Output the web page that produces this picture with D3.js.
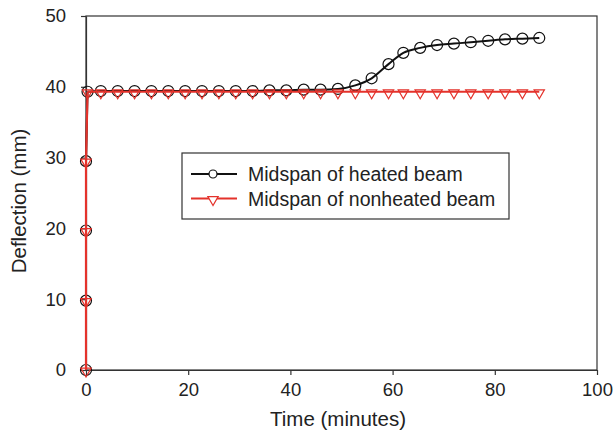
<!DOCTYPE html>
<html>
<head>
<meta charset="utf-8">
<script src="https://cdn.jsdelivr.net/npm/d3@7"></script>
<style>
  body { margin: 0; background: #fff; }
  text { font-family: "Liberation Sans", Arial, sans-serif; }
</style>
</head>
<body>
<div id="chart"></div>
<script>
// Deflection vs time at midspan

const heatedTime = [0, 0, 0, 0, 0.3, 2.9, 6.2, 9.5, 12.8, 16.1, 19.4, 22.7, 26.0, 29.3, 32.6, 35.9,
  39.2, 42.6, 45.9, 49.3, 52.7, 55.9, 59.2, 62.1, 65.4, 68.7, 72.0, 75.3, 78.7, 82.0, 85.4, 88.7];
const heatedDefl = [0, 9.8, 19.7, 29.5, 39.3, 39.4, 39.4, 39.4, 39.4, 39.4, 39.4, 39.4, 39.4, 39.4, 39.4, 39.5,
  39.5, 39.6, 39.6, 39.7, 40.2, 41.2, 43.2, 44.8, 45.5, 45.9, 46.1, 46.3, 46.5, 46.7, 46.8, 46.9];

const nonheatedTime = [0, 0, 0, 0, 0.3, 2.9, 6.2, 9.5, 12.8, 16.1, 19.4, 22.7, 26.0, 29.3, 32.6, 35.9,
  39.2, 42.6, 45.9, 49.3, 52.7, 55.9, 59.2, 62.1, 65.4, 68.7, 72.0, 75.3, 78.7, 82.0, 85.4, 88.7];
const nonheatedDefl = [0, 9.8, 19.7, 29.5, 39.3, 39.3, 39.3, 39.3, 39.3, 39.3, 39.3, 39.3, 39.3, 39.3, 39.3, 39.3,
  39.3, 39.3, 39.3, 39.3, 39.3, 39.3, 39.3, 39.3, 39.3, 39.3, 39.3, 39.3, 39.3, 39.3, 39.3, 39.3];

const xTicks = [0, 20, 40, 60, 80, 100];
const yTicks = [0, 10, 20, 30, 40, 50];
const seriesNames = ["Midspan of heated beam", "Midspan of nonheated beam"];

const width = 613, height = 436;
const margin = { top: 16, right: 16, bottom: 66, left: 86 };
const red = "#e4322b";
const ink = "#222";

const svg = d3.select("#chart").append("svg")
  .attr("width", width).attr("height", height);

const x = d3.scaleLinear().domain([0, 100]).range([margin.left, width - margin.right]);
const y = d3.scaleLinear().domain([0, 50]).range([height - margin.bottom, margin.top]);

// cadre
svg.append("rect")
  .attr("x", x(0)).attr("y", y(50))
  .attr("width", x(100) - x(0)).attr("height", y(0) - y(50))
  .attr("fill", "none").attr("stroke", "#333").attr("stroke-width", 1.2);

// axes
const xAxis = svg.append("g")
  .attr("transform", `translate(0,${y(0)})`)
  .call(d3.axisBottom(x).tickValues(xTicks).tickSize(5).tickSizeOuter(0).tickPadding(8));
const yAxis = svg.append("g")
  .attr("transform", `translate(${x(0)},0)`)
  .call(d3.axisLeft(y).tickValues(yTicks).tickSize(5).tickSizeOuter(0).tickPadding(15));
[xAxis, yAxis].forEach(a => {
  a.select(".domain").attr("stroke", "#333").attr("stroke-width", 1.2);
  a.selectAll(".tick line").attr("stroke", "#333").attr("stroke-width", 1.2);
  a.selectAll(".tick text").attr("font-size", 18.5).attr("fill", ink)
    .style("font-family", "'Liberation Sans', Arial, sans-serif");
});

// titres des axes
svg.append("text")
  .attr("x", 338).attr("y", 426)
  .attr("text-anchor", "middle").attr("font-size", 20.5).attr("fill", ink)
  .text("Time (minutes)");
svg.append("text")
  .attr("transform", `translate(26,201) rotate(-90)`)
  .attr("text-anchor", "middle").attr("font-size", 20.5).attr("fill", ink)
  .text("Deflection (mm)");

const heated = heatedTime.map((t, i) => [t, heatedDefl[i]]);
const nonheated = nonheatedTime.map((t, i) => [t, nonheatedDefl[i]]);

// montée verticale en linéaire, le reste lissé
const lineRise = d3.line().x(d => x(d[0])).y(d => y(d[1]));
const lineSmooth = d3.line().x(d => x(d[0])).y(d => y(d[1])).curve(d3.curveMonotoneX);

function drawSeries(data, color, sw) {
  svg.append("path").datum(data.slice(0, 5))
    .attr("d", lineRise).attr("fill", "none").attr("stroke", color).attr("stroke-width", sw);
  svg.append("path").datum(data.slice(4))
    .attr("d", lineSmooth).attr("fill", "none").attr("stroke", color).attr("stroke-width", sw);
}

const tri = d3.symbol().type(d3.symbolTriangle).size(46);

// poutre chauffée (cercles noirs)
drawSeries(heated, "#111", 2);
svg.append("g").selectAll("circle").data(heated).join("circle")
  .attr("cx", d => x(d[0])).attr("cy", d => y(d[1])).attr("r", 5.5)
  .attr("fill", "none").attr("stroke", "#111").attr("stroke-width", 1.2);

// poutre non chauffée (triangles rouges)
drawSeries(nonheated, red, 2.2);
svg.append("g").selectAll("path").data(nonheated).join("path")
  .attr("d", tri)
  .attr("transform", d => `translate(${x(d[0])},${y(d[1]) + 1}) rotate(180)`)
  .attr("fill", "none").attr("stroke", red).attr("stroke-width", 1.2);

// légende
const lg = svg.append("g").attr("transform", "translate(182,153)");
lg.append("rect").attr("width", 327).attr("height", 66)
  .attr("fill", "#fff").attr("stroke", "#333").attr("stroke-width", 1.2);
const colors = ["#111", red];
seriesNames.forEach((name, i) => {
  const cy = 21 + i * 24.5;
  lg.append("line").attr("x1", 9).attr("x2", 55).attr("y1", cy).attr("y2", cy)
    .attr("stroke", colors[i]).attr("stroke-width", 2);
  if (i === 0) {
    lg.append("circle").attr("cx", 31).attr("cy", cy).attr("r", 4)
      .attr("fill", "#fff").attr("stroke", "#111").attr("stroke-width", 1.2);
  } else {
    lg.append("path").attr("d", tri)
      .attr("transform", `translate(31,${cy + 1}) rotate(180)`)
      .attr("fill", "#fff").attr("stroke", red).attr("stroke-width", 1.2);
  }
  lg.append("text").attr("x", 66).attr("y", cy + 7)
    .attr("font-size", 19.5).attr("fill", ink).text(name);
});
</script>
</body>
</html>
